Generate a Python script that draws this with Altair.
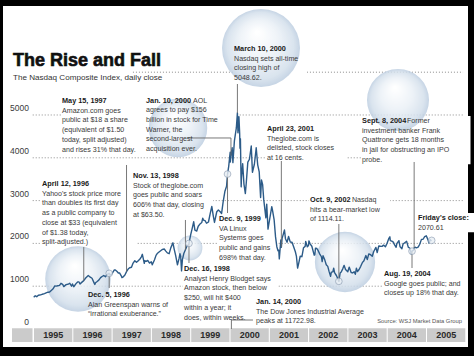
import altair as alt
import pandas as pd

# ---------------- data ----------------
nasdaq_1995 = [("1995-01-03",743),("1995-01-17",775),("1995-01-31",755),("1995-02-15",790),("1995-02-28",793),("1995-03-15",805),("1995-03-31",817),("1995-04-13",825),("1995-04-28",843),("1995-05-15",860),("1995-05-31",865),("1995-06-15",900),("1995-06-30",933),("1995-07-18",1005),("1995-07-31",1001),("1995-08-15",1010),("1995-08-31",1020),("1995-09-13",1067),("1995-09-29",1044),("1995-10-09",990),("1995-10-31",1036),("1995-11-15",1045),("1995-11-30",1059),("1995-12-04",1069),("1995-12-20",1000),("1995-12-29",1052)]
nasdaq_1996 = [("1996-01-10",988),("1996-01-31",1060),("1996-02-15",1100),("1996-02-28",1100),("1996-03-08",1050),("1996-03-29",1101),("1996-04-12",1130),("1996-04-30",1191),("1996-05-24",1249),("1996-06-12",1210),("1996-06-28",1185),("1996-07-15",1090),("1996-07-24",1042),("1996-07-31",1081),("1996-08-15",1110),("1996-08-30",1141),("1996-09-16",1200),("1996-09-30",1227),("1996-10-15",1250),("1996-10-31",1222),("1996-11-15",1270),("1996-11-29",1293),("1996-12-05",1300),("1996-12-13",1260),("1996-12-31",1291)]
nasdaq_1997 = [("1997-01-22",1380),("1997-01-31",1380),("1997-02-14",1350),("1997-02-28",1309),("1997-03-11",1310),("1997-03-31",1222),("1997-04-02",1201),("1997-04-15",1220),("1997-04-30",1261),("1997-05-15",1340),("1997-05-30",1400),("1997-06-13",1430),("1997-06-30",1442),("1997-07-15",1540),("1997-07-31",1594),("1997-08-15",1560),("1997-08-29",1587),("1997-09-15",1630),("1997-09-30",1686),("1997-10-09",1745),("1997-10-27",1535),("1997-10-31",1594),("1997-11-14",1580),("1997-11-28",1601),("1997-12-15",1540),("1997-12-31",1570)]
nasdaq_1998 = [("1998-01-09",1500),("1998-01-30",1619),("1998-02-13",1720),("1998-02-27",1771),("1998-03-13",1800),("1998-03-31",1835),("1998-04-14",1860),("1998-04-30",1868),("1998-05-15",1820),("1998-05-29",1779),("1998-06-15",1760),("1998-06-30",1895),("1998-07-20",2014),("1998-07-31",1873),("1998-08-14",1720),("1998-08-31",1499),("1998-09-15",1650),("1998-09-23",1760),("1998-09-30",1694),("1998-10-08",1357),("1998-10-16",1620),("1998-10-30",1771),("1998-11-13",1850),("1998-11-30",1950),("1998-12-09",1950),("1998-12-16",2000),("1998-12-31",2193)]
nasdaq_1999 = [("1999-01-15",2350),("1999-01-29",2506),("1999-02-09",2310),("1999-02-26",2288),("1999-03-12",2400),("1999-03-31",2461),("1999-04-14",2490),("1999-04-23",2590),("1999-04-30",2543),("1999-05-14",2530),("1999-05-28",2471),("1999-06-15",2500),("1999-06-30",2686),("1999-07-16",2864),("1999-07-30",2638),("1999-08-10",2490),("1999-08-31",2739),("1999-09-15",2780),("1999-09-30",2746),("1999-10-15",2700),("1999-10-29",2966),("1999-11-15",3220),("1999-11-30",3336),("1999-12-09",3620),("1999-12-20",3800),("1999-12-31",4069)]
nasdaq_2000 = [("2000-01-03",4131),("2000-01-04",3901),("2000-01-10",4050),("2000-01-21",4235),("2000-01-28",3887),("2000-02-11",4395),("2000-02-29",4697),("2000-03-10",5048.62),("2000-03-15",4583),("2000-03-24",4963),("2000-03-31",4573),("2000-04-03",4223),("2000-04-07",4446),("2000-04-14",3321),("2000-04-17",3539),("2000-04-28",3861),("2000-05-10",3385),("2000-05-23",3165),("2000-05-31",3401),("2000-06-15",3900),("2000-06-30",3966),("2000-07-17",4275),("2000-07-28",3663),("2000-08-15",3850),("2000-08-31",4206),("2000-09-01",4234),("2000-09-15",3835),("2000-09-29",3673),("2000-10-12",3074),("2000-10-20",3483),("2000-10-31",3370),("2000-11-10",3028),("2000-11-30",2598),("2000-12-08",2917),("2000-12-20",2333),("2000-12-29",2471)]
nasdaq_2001 = [("2001-01-24",2859),("2001-01-31",2773),("2001-02-15",2550),("2001-02-28",2152),("2001-03-12",1923),("2001-03-22",1830),("2001-03-30",1840),("2001-04-04",1639),("2001-04-18",2079),("2001-04-23",1910),("2001-04-30",2116),("2001-05-22",2313),("2001-05-31",2110),("2001-06-15",2028),("2001-06-29",2161),("2001-07-15",2030),("2001-07-31",2027),("2001-08-15",1920),("2001-08-31",1805),("2001-09-10",1695),("2001-09-21",1423),("2001-09-28",1499),("2001-10-15",1700),("2001-10-31",1690),("2001-11-15",1900),("2001-11-30",1931),("2001-12-05",2046),("2001-12-20",1920),("2001-12-31",1950)]
nasdaq_2002 = [("2002-01-04",2059),("2002-01-15",1990),("2002-01-31",1934),("2002-02-22",1725),("2002-02-28",1731),("2002-03-06",1890),("2002-03-19",1880),("2002-03-28",1845),("2002-04-15",1750),("2002-04-30",1688),("2002-05-07",1574),("2002-05-15",1710),("2002-05-31",1616),("2002-06-14",1500),("2002-06-28",1463),("2002-07-10",1346),("2002-07-24",1229),("2002-07-31",1328),("2002-08-14",1335),("2002-08-22",1423),("2002-08-30",1315),("2002-09-16",1250),("2002-09-30",1172),("2002-10-09",1114.11),("2002-10-21",1310),("2002-10-31",1330),("2002-11-15",1411),("2002-11-27",1487),("2002-12-10",1390),("2002-12-31",1336)]
nasdaq_2003 = [("2003-01-13",1446),("2003-01-31",1321),("2003-02-14",1310),("2003-02-28",1338),("2003-03-11",1279),("2003-03-21",1421),("2003-03-31",1341),("2003-04-15",1390),("2003-04-30",1464),("2003-05-15",1550),("2003-05-30",1596),("2003-06-17",1715),("2003-06-30",1623),("2003-07-14",1754),("2003-07-31",1735),("2003-08-15",1700),("2003-08-29",1810),("2003-09-18",1907),("2003-09-30",1787),("2003-10-15",1940),("2003-10-31",1932),("2003-11-14",1930),("2003-11-28",1960),("2003-12-15",1920),("2003-12-31",2003)]
nasdaq_2004 = [("2004-01-15",2110),("2004-01-26",2153),("2004-01-30",2066),("2004-02-13",2053),("2004-02-27",2030),("2004-03-10",1965),("2004-03-24",1910),("2004-03-31",1994),("2004-04-19",2064),("2004-04-30",1920),("2004-05-17",1876),("2004-05-28",1987),("2004-06-15",2020),("2004-06-30",2048),("2004-07-15",1914),("2004-07-30",1887),("2004-08-12",1752),("2004-08-19",1819),("2004-08-31",1838),("2004-09-08",1895),("2004-09-20",1910),("2004-09-30",1897),("2004-10-15",1911),("2004-10-29",1975),("2004-11-15",2094),("2004-11-30",2097),("2004-12-15",2160),("2004-12-30",2178)]
nasdaq_2005 = [("2005-01-14",2088),("2005-01-24",2008),("2005-01-31",2062),("2005-02-04",2086),("2005-02-10",2066),("2005-02-18",2070.61)]

year_labels = ["1995","1996","1997","1998","1999","2000","2001","2002","2003","2004","2005"]
y_tick_values = [0, 1000, 2000, 3000, 4000, 5000]
grid_values = [1000, 2000, 3000, 4000, 5000, 6000]

title_text = "The Rise and Fall"
subtitle_text = "The Nasdaq Composite Index, daily close"
source_text = "Source: WSJ Market Data Group"

annot_heads = ["April 12, 1996", "May 15, 1997", "Dec. 5, 1996", "Nov. 13, 1998", "Dec. 16, 1998",
               "Jan. 10, 2000", "March 10, 2000", "Dec. 9, 1999", "Jan. 14, 2000", "April 23, 2001",
               "Oct. 9, 2002", "Sept. 8, 2004", "Friday's close:", "Aug. 19, 2004"]
annot_bodies = [
    "Yahoo's stock price more\nthan doubles its first day\nas a public company to\nclose at $33 (equivalent\nof $1.38 today,\nsplit-adjusted.)",
    "Amazon.com goes\npublic at $18 a share\n(equivalent of $1.50\ntoday, split adjusted)\nand rises 31% that day.",
    "Alan Greenspan warns of\n\u201cirrational exuberance.\u201d",
    "Stock of theglobe.com\ngoes public and soars\n606% that day, closing\nat $63.50.",
    "Analyst Henry Blodget says\nAmazon stock, then below\n$250, will hit $400\nwithin a year; it\ndoes, within weeks.",
    "agrees to pay $156\nbillion in stock for Time\nWarner, the\nsecond-largest\nacquisition ever.",
    "Nasdaq sets all-time\nclosing high of\n5048.62.",
    "VA Linux\nSystems  goes\npublic and gains\n698% that day.",
    "The Dow Jones Industrial Average\npeaks at 11722.98.",
    "Theglobe.com is\ndelisted, stock closes\nat 16 cents.",
    "hits a bear-market low\nof 1114.11.",
    "investment banker Frank\nQuattrone gets 18 months\nin jail for obstructing an IPO\nprobe.",
    "2070.61",
    "Google goes public; and\ncloses up 18% that day.",
]
annot_inline = ["", "", "", "", "", "AOL", "", "", "", "", "Nasdaq", "Former", "", ""]

# ---------------- layout (in data units: fractional year, index value) ----------------
annot_x = [1995.216, 1995.725, 1996.387, 1997.532, 1998.830, 1997.863, 2000.102, 1999.720,
           2000.662, 2000.941, 2002.035, 2003.359, 2004.784, 2003.919]
annot_y = [3341, 5280, 748, 3528, 1355, 5292, 6495, 2523, 584, 4626, 2967, 4813, 2547, 1238]
inline_x = [None, None, None, None, None, 1999.059, None, None, None, None, 2003.104, 2004.504, None, None]
PX_T = 1 / 39.3      # one pixel in year units
PX_V = 23.364        # one pixel in index units
LINE_PX = 9.7

leader_dates = ["1996-04-12", "1997-05-15", "1996-12-05", "1998-11-13", "1998-12-16",
                "1999-12-09", "2000-03-10", "2001-04-23", "2002-10-09", "2004-09-08", "2004-08-19",
                "2000-01-10", "2000-01-14"]
leader_from = [1916, 3832, 958, 2547, 1542, 2710, 5724, 3925, 2453, 3902, 1425, 4463, 210]
leader_to = [1130, 1340, 1300, 1850, 2000, 3620, 5048, 1910, 1114, 1895, 1819, 4050, 0]

marker_dates = ["1996-12-05", "1998-12-16", "1999-12-09", "2002-10-09", "2004-08-19", "2005-02-18"]
marker_vals = [1300, 2000, 3620, 1114, 1819, 2070.61]

bubble_x = [2000.789, 1998.677, 2004.275, 1996.132, 2002.926, 1998.982]
bubble_y = [6565, 4696, 5350, 1168, 1565, 1892]
bubble_r = [44, 33, 35, 37, 34, 14]


def frac_year(s):
    ts = pd.Timestamp(s)
    days = 366 if ts.is_leap_year else 365
    return ts.year + (ts.dayofyear - 1) / days


rows = []
for part in [nasdaq_1995, nasdaq_1996, nasdaq_1997, nasdaq_1998, nasdaq_1999, nasdaq_2000,
             nasdaq_2001, nasdaq_2002, nasdaq_2003, nasdaq_2004, nasdaq_2005]:
    for d, v in part:
        rows.append({"t": frac_year(d), "close": v})
line_df = pd.DataFrame(rows)

W, H = 465, 341
X0, X1 = 1994.2239, 2006.0560
Y0, Y1 = -420.6, 7546.7
xs = alt.Scale(domain=[X0, X1], nice=False, zero=False)
ys = alt.Scale(domain=[Y0, Y1], nice=False, zero=False)

FONT = "Liberation Sans, Arial, sans-serif"
BODY = 7.1
HEAD = 7.3


def X(f):
    return alt.X(f, type="quantitative", scale=xs, axis=None)


def Y(f):
    return alt.Y(f, type="quantitative", scale=ys, axis=None)


# year band
band = [{"x": 1994.453, "x2": 1994.975, "y": 20, "y2": -305}]
for yl in year_labels:
    yr = int(yl)
    band.append({"x": yr + 0.013, "x2": yr + 0.987, "y": 20, "y2": -305})
band_df = pd.DataFrame(band)
band_layer = alt.Chart(band_df).mark_rect(color="#cbcbcb").encode(
    x=X("x"), x2="x2", y=Y("y"), y2="y2")
ylab_df = pd.DataFrame({"t": [int(y) + 0.5 for y in year_labels], "v": [-142] * len(year_labels), "label": year_labels})
ylab_layer = alt.Chart(ylab_df).mark_text(font=FONT, fontSize=9, fontWeight="bold", color="#2a2a2a",
                                          baseline="middle", align="center").encode(
    x=X("t"), y=Y("v"), text="label:N")

# gridlines
grid_df = pd.DataFrame({"x": [1994.98 if g < 6000 else 1997.53 for g in grid_values],
                        "x2": [2005.93] * len(grid_values), "v": grid_values})
grid_layer = alt.Chart(grid_df).mark_rule(color="#8c8c8c", strokeDash=[1, 2], strokeWidth=1).encode(
    x=X("x"), x2="x2", y=Y("v"))

# white boxes behind the note blocks (hide the gridlines like the original)
boxes = []
for x, v, h, b in zip(annot_x, annot_y, annot_heads, annot_bodies):
    lines = b.split("\n")
    wpx = max([len(h) * 0.55 * HEAD] + [len(s) * 0.5 * BODY for s in lines]) + 2
    boxes.append({"x": x - 1 * PX_T, "x2": x + wpx * PX_T,
                  "y": v + 7 * PX_V, "y2": v - (len(lines) * LINE_PX + 2.5) * PX_V})
box_df = pd.DataFrame(boxes)
box_layer = alt.Chart(box_df).mark_rect(color="white").encode(
    x=X("x"), x2="x2", y=Y("y"), y2="y2")

tick_df = pd.DataFrame({"t": [1994.885] * len(y_tick_values), "v": y_tick_values,
                        "label": [str(v) for v in y_tick_values]})
tick_layer = alt.Chart(tick_df).mark_text(font=FONT, fontSize=8.5, color="#3a3a3a", align="right",
                                          baseline="alphabetic", dy=-4).encode(
    x=X("t"), y=Y("v"), text="label:N")

# bubbles
grad = alt.RadialGradient(gradient="radial",
                          stops=[alt.GradientStop(offset=0, color="#ffffff"),
                                 alt.GradientStop(offset=0.5, color="#eaf0f6"),
                                 alt.GradientStop(offset=0.85, color="#d3dfeb"),
                                 alt.GradientStop(offset=1, color="#bccde0")],
                          x1=0.45, y1=0.3, r1=0.02, x2=0.5, y2=0.5, r2=0.5)
bub_df = pd.DataFrame({"t": bubble_x, "v": bubble_y, "s": [3.14159 * r * r for r in bubble_r]})
bub_layer = alt.Chart(bub_df).mark_circle(fill=grad, opacity=0.85, strokeWidth=0).encode(
    x=X("t"), y=Y("v"), size=alt.Size("s:Q", scale=None))

# index line
line_layer = alt.Chart(line_df).mark_line(color="#2c5b88", strokeWidth=1.4, strokeJoin="round").encode(
    x=X("t"), y=Y("close"))

# leaders
segs = []
for d, a, b in zip(leader_dates, leader_from, leader_to):
    t = frac_year(d)
    segs.append({"x": t, "x2": t, "y": a, "y2": b})
segs.append({"x": 1998.909, "x2": frac_year("2000-01-10"), "y": 4463, "y2": 4463})
segs.append({"x": frac_year("2000-01-14"), "x2": 2000.585, "y": 210, "y2": 210})
seg_df = pd.DataFrame(segs)
lead_layer = alt.Chart(seg_df).mark_rule(color="#6a6a6a", strokeWidth=0.9).encode(
    x=X("x"), x2="x2", y=Y("y"), y2="y2")

mk_df = pd.DataFrame({"t": [frac_year(d) for d in marker_dates], "v": marker_vals})
mk_layer = alt.Chart(mk_df).mark_circle(size=45, color="#e9eff5", opacity=0.8, stroke="#8a9bb0",
                                        strokeWidth=0.8).encode(x=X("t"), y=Y("v"))

# annotation text
head_df = pd.DataFrame({"t": annot_x, "v": annot_y, "text": annot_heads})
body_df = pd.DataFrame({"t": annot_x, "v": [v - LINE_PX * PX_V for v in annot_y], "text": annot_bodies})
inl = [(x, v, s) for x, v, s in zip(inline_x, annot_y, annot_inline) if s]
inl_df = pd.DataFrame({"t": [a[0] for a in inl], "v": [a[1] for a in inl], "text": [a[2] for a in inl]})

head_layer = alt.Chart(head_df).mark_text(font=FONT, fontSize=HEAD, fontWeight="bold", color="#1a1a1a",
                                          align="left", baseline="alphabetic").encode(
    x=X("t"), y=Y("v"), text="text:N")
body_layer = alt.Chart(body_df).mark_text(font=FONT, fontSize=BODY, color="#3a3a3a", align="left",
                                          baseline="alphabetic", lineBreak="\n", lineHeight=LINE_PX).encode(
    x=X("t"), y=Y("v"), text="text:N")
inl_layer = alt.Chart(inl_df).mark_text(font=FONT, fontSize=BODY, color="#3a3a3a", align="left",
                                        baseline="alphabetic").encode(
    x=X("t"), y=Y("v"), text="text:N")

title_df = pd.DataFrame({"t": [1994.478], "v": [6145], "text": [title_text]})
title_layer = alt.Chart(title_df).mark_text(font=FONT, fontSize=18, fontWeight="bold", color="#111111",
                                            align="left", baseline="alphabetic", stroke="#111111",
                                            strokeWidth=0.6).encode(
    x=X("t"), y=Y("v"), text="text:N")
sub_df = pd.DataFrame({"t": [1994.478], "v": [5829], "text": [subtitle_text]})
sub_layer = alt.Chart(sub_df).mark_text(font=FONT, fontSize=8.1, color="#333333", align="left",
                                        baseline="alphabetic").encode(
    x=X("t"), y=Y("v"), text="text:N")
src_df = pd.DataFrame({"t": [2005.903], "v": [129], "text": [source_text]})
src_layer = alt.Chart(src_df).mark_text(font=FONT, fontSize=5.8, color="#555555", align="right",
                                        baseline="alphabetic").encode(
    x=X("t"), y=Y("v"), text="text:N")

chart = alt.layer(
    band_layer, ylab_layer, grid_layer, box_layer, tick_layer, bub_layer, line_layer, lead_layer,
    mk_layer, head_layer, body_layer, inl_layer, title_layer, sub_layer, src_layer
).properties(
    width=W, height=H,
    padding={"left": 3, "top": 6, "right": 6, "bottom": 9},
    autosize=alt.AutoSizeParams(type="none"),
).configure(background="black").configure_view(fill="white", stroke=None)

chart.save("out.html", embed_options={"renderer": "svg", "actions": False})
